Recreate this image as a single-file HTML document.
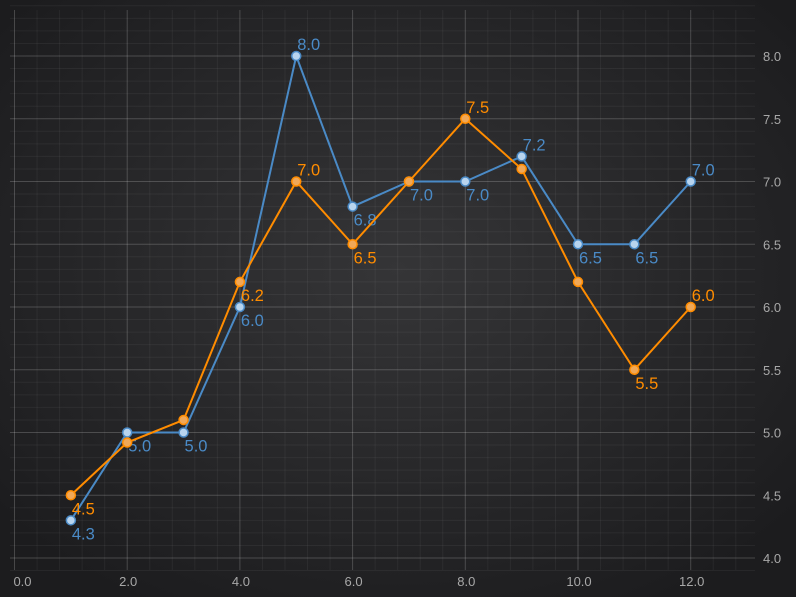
<!DOCTYPE html>
<html><head><meta charset="utf-8"><style>
html,body{margin:0;padding:0;background:#1f1f21}
svg{display:block;font-family:"Liberation Sans",sans-serif}
</style></head><body>
<svg width="796" height="597" viewBox="0 0 796 597">
<defs><radialGradient id="bg" cx="50%" cy="45%" r="65%"><stop offset="0" stop-color="#353537"/><stop offset="1" stop-color="#1c1c1e"/></radialGradient></defs>
<rect width="796" height="597" fill="url(#bg)"/>
<g id="grid"></g>
<g id="axes"></g>
<g id="series"></g>
</svg>
<script>
const xCats=[1,2,3,4,5,6,7,8,9,10,11,12];
const blueVals=[4.3,5.0,5.0,6.0,8.0,6.8,7.0,7.0,7.2,6.5,6.5,7.0];
const orangeVals=[4.5,4.92,5.1,6.2,7.0,6.5,7.0,7.5,7.1,6.2,5.5,6.0];
const blueLabels=["4.3","5.0","5.0","6.0","8.0","6.8","7.0","7.0","7.2","6.5","6.5","7.0"];
const orangeLabels=["4.5","","","6.2","7.0","6.5","","7.5","","","5.5","6.0"];
const blueAbove=[0,0,0,0,1,0,0,0,1,0,0,1];
const orangeAbove=[0,0,0,0,1,0,0,1,0,0,0,1];
const xTicks=[0,2,4,6,8,10,12];
const yTicks=[4.0,4.5,5.0,5.5,6.0,6.5,7.0,7.5,8.0];
const NS="http://www.w3.org/2000/svg";
const X=v=>14.5+56.35*v, Y=v=>558-125.5*(v-4);
function mk(tag,attrs,parent){const e=document.createElementNS(NS,tag);for(const k in attrs)e.setAttribute(k,attrs[k]);parent.appendChild(e);return e;}
const grid=document.getElementById('grid'),axes=document.getElementById('axes'),ser=document.getElementById('series');
for(let v=0;v<=13;v+=0.4){const l=mk('line',{x1:X(v),x2:X(v),y1:10,y2:570,stroke:'#ffffff',"stroke-opacity":0.05},grid);

}
for(let v=3.9;v<=8.4;v+=0.1){const l=mk('line',{x1:10,x2:755,y1:Y(v),y2:Y(v),stroke:'#ffffff',"stroke-opacity":0.05},grid);

}
xTicks.forEach(t=>{const l=mk('line',{x1:X(t),x2:X(t),y1:10,y2:570,stroke:'#ffffff',"stroke-opacity":0.15},grid);


const tx=mk('text',{x:X(t)+(t===0?8:1),y:586,fill:'#a8a8a8',"font-size":13,"text-anchor":"middle"},axes);tx.textContent=t.toFixed(1);

});
yTicks.forEach(t=>{const l=mk('line',{x1:10,x2:755,y1:Y(t),y2:Y(t),stroke:'#ffffff',"stroke-opacity":0.15},grid);


const tx=mk('text',{x:763,y:Y(t)+5,fill:'#a8a8a8',"font-size":13},axes);tx.textContent=t.toFixed(1);

});
function drawSeries(vals,labels,above,color,fill,name){
 const g=mk('g',{},ser);
 
 
 const pl=mk('polyline',{points:vals.map((v,i)=>X(xCats[i])+','+Y(v)).join(' '),fill:'none',stroke:color,"stroke-width":2},g);
 
 
 vals.forEach((v,i)=>{
  const c=mk('circle',{cx:X(xCats[i]),cy:Y(v),r:4.5,fill:fill,stroke:color,"stroke-width":1.5},g);
  
  
  if(labels[i]){const t=mk('text',{x:X(xCats[i])+1,y:Y(v)+(above[i]?-6:19),fill:color,"font-size":16.5},g);t.textContent=labels[i];
  
  }
 });
}
drawSeries(blueVals,blueLabels,blueAbove,'#4a8ac6','#b8d4ee','blue');
drawSeries(orangeVals,orangeLabels,orangeAbove,'#ff8c00','#f0a858','orange');
</script>
</body></html>
